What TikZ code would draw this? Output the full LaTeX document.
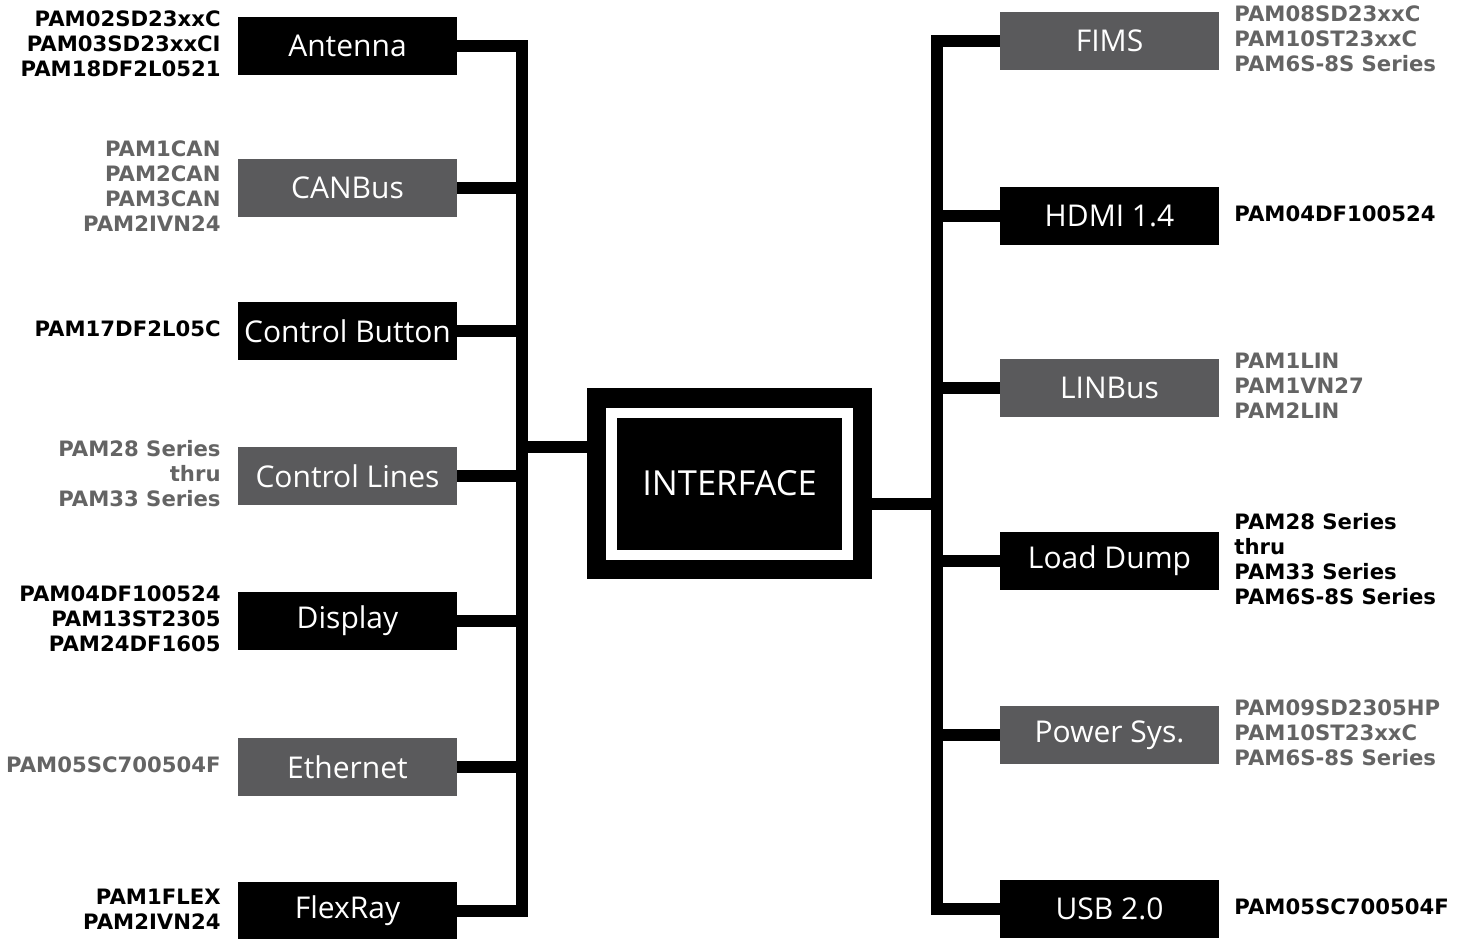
\documentclass[tikz,border=0pt]{standalone}
\usepackage{fontspec}
\setmainfont{DejaVu Sans}
\newfontfamily\boxfont{Open Sans}
\usetikzlibrary{positioning}
\definecolor{boxgray}{RGB}{90,90,92}
\definecolor{partgray}{RGB}{100,100,100}

\begin{document}
\begin{tikzpicture}[x=1pt,y=-1pt,
		blackbox/.style={fill=black,text=white,minimum width=219pt,minimum height=58pt,
			inner sep=0pt,font=\boxfont\fontsize{30}{35}\selectfont},
		graybox/.style={blackbox,fill=boxgray},
		parts/.style={inner sep=0pt,yshift=2pt,font=\bfseries\fontsize{21.2}{25}\selectfont},
		grayparts/.style={parts,text=partgray},
		bus/.style={line width=12pt}
		]
	\useasboundingbox (0,0) rectangle (1466,938);

	% left side
	\node[blackbox](ant) at (347.5,46){Antenna};
	\node[graybox](can) at (347.5,188){CANBus};
	\node[blackbox](cbtn) at (347.5,331){Control Button};
	\node[graybox](clin) at (347.5,476){Control Lines};
	\node[blackbox](disp) at (347.5,621){Display};
	\node[graybox](eth) at (347.5,767){Ethernet};
	\node[blackbox](flex) at (347.5,911){FlexRay};

	\node[parts, align=right, left=17pt of ant](antp){PAM02SD23xxC\\PAM03SD23xxCI\\PAM18DF2L0521};
	\node[grayparts, align=right, left=17pt of can](canp){PAM1CAN\\PAM2CAN\\PAM3CAN\\PAM2IVN24};
	\node[parts, align=right, left=17pt of cbtn](cbtnp){PAM17DF2L05C};
	\node[grayparts, align=right, left=17pt of clin](clinp){PAM28 Series\\thru\\PAM33 Series};
	\node[parts, align=right, left=17pt of disp](dispp){PAM04DF100524\\PAM13ST2305\\PAM24DF1605};
	\node[grayparts, align=right, left=17pt of eth](ethp){PAM05SC700504F};
	\node[parts, align=right, left=17pt of flex](flexp){PAM1FLEX\\PAM2IVN24};

	% centre
	\node[fill=black,minimum width=285pt,minimum height=191pt,inner sep=0pt](iface) at (729.5,483.5){};
	\node[fill=white,minimum width=247pt,minimum height=152pt,inner sep=0pt](ifring) at (iface.center){};
	\node[fill=black,text=white,minimum width=225pt,minimum height=132pt,inner sep=0pt,
		font=\boxfont\fontsize{34.5}{40}\selectfont](ifcore) at (iface.center){INTERFACE};

	% right side
	\node[graybox](fims) at (1109.5,41){FIMS};
	\node[blackbox](hdmi) at (1109.5,216){HDMI 1.4};
	\node[graybox](lin) at (1109.5,388){LINBus};
	\node[blackbox](load) at (1109.5,561){Load Dump};
	\node[graybox](pwr) at (1109.5,735){Power Sys.};
	\node[blackbox](usb) at (1109.5,909){USB 2.0};

	\node[grayparts, align=left, right=15pt of fims](fimsp){PAM08SD23xxC\\PAM10ST23xxC\\PAM6S-8S Series};
	\node[parts, align=left, right=15pt of hdmi](hdmip){PAM04DF100524};
	\node[grayparts, align=left, right=15pt of lin](linp){PAM1LIN\\PAM1VN27\\PAM2LIN};
	\node[parts, align=left, right=15pt of load](loadp){PAM28 Series\\thru\\PAM33 Series\\PAM6S-8S Series};
	\node[grayparts, align=left, right=15pt of pwr](pwrp){PAM09SD2305HP\\PAM10ST23xxC\\PAM6S-8S Series};
	\node[parts, align=left, right=15pt of usb](usbp){PAM05SC700504F};

	% buses
	\coordinate (busL) at (522,476);
	\coordinate (busR) at (937,504);
	\draw[bus] (ant.east) -| (busL) |- (flex.east);
	\foreach \n in {can,cbtn,clin,disp,eth}
		\draw[bus] (\n.east) -- (\n.east -| busL);
	\draw[bus] ([yshift=36.5pt]iface.west) -- ([yshift=36.5pt]iface.west -| busL);

	\draw[bus] (fims.west) -| (busR) |- (usb.west);
	\foreach \n in {hdmi,lin,load,pwr}
		\draw[bus] (\n.west) -- (\n.west -| busR);
	\draw[bus] ([yshift=-20.5pt]iface.east) -- ([yshift=-20.5pt]iface.east -| busR);
\end{tikzpicture}
\end{document}
